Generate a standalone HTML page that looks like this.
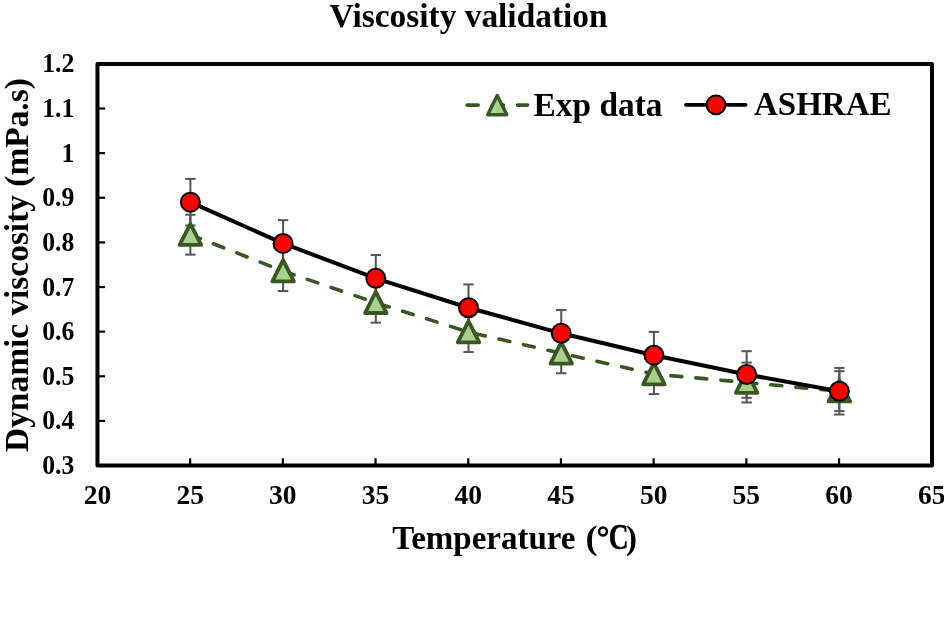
<!DOCTYPE html>
<html><head><meta charset="utf-8"><style>
html,body{margin:0;padding:0;background:#fff;width:944px;height:632px;overflow:hidden}
svg{position:absolute;left:0;top:0;will-change:transform}
text{font-family:"Liberation Serif",serif;font-weight:bold;fill:#000}
</style></head><body>
<svg width="944" height="632" viewBox="0 0 944 632">
<text x="468.6" y="27" font-size="33.4" text-anchor="middle">Viscosity validation</text>
<rect x="97.45" y="63.9" width="834.55" height="401.65" fill="none" stroke="#000" stroke-width="4" stroke-linejoin="round"/>
<text x="75.5" y="474.05" font-size="27.5" text-anchor="end" transform="translate(58.3,0) scale(0.935,1) translate(-58.3,0)">0.3</text>
<line x1="99" y1="420.92" x2="105.1" y2="420.92" stroke="#000" stroke-width="2.2"/>
<text x="75.5" y="429.42" font-size="27.5" text-anchor="end" transform="translate(58.3,0) scale(0.935,1) translate(-58.3,0)">0.4</text>
<line x1="99" y1="376.29" x2="105.1" y2="376.29" stroke="#000" stroke-width="2.2"/>
<text x="75.5" y="384.79" font-size="27.5" text-anchor="end" transform="translate(58.3,0) scale(0.935,1) translate(-58.3,0)">0.5</text>
<line x1="99" y1="331.66" x2="105.1" y2="331.66" stroke="#000" stroke-width="2.2"/>
<text x="75.5" y="340.16" font-size="27.5" text-anchor="end" transform="translate(58.3,0) scale(0.935,1) translate(-58.3,0)">0.6</text>
<line x1="99" y1="287.03" x2="105.1" y2="287.03" stroke="#000" stroke-width="2.2"/>
<text x="75.5" y="295.53" font-size="27.5" text-anchor="end" transform="translate(58.3,0) scale(0.935,1) translate(-58.3,0)">0.7</text>
<line x1="99" y1="242.40" x2="105.1" y2="242.40" stroke="#000" stroke-width="2.2"/>
<text x="75.5" y="250.90" font-size="27.5" text-anchor="end" transform="translate(58.3,0) scale(0.935,1) translate(-58.3,0)">0.8</text>
<line x1="99" y1="197.77" x2="105.1" y2="197.77" stroke="#000" stroke-width="2.2"/>
<text x="75.5" y="206.27" font-size="27.5" text-anchor="end" transform="translate(58.3,0) scale(0.935,1) translate(-58.3,0)">0.9</text>
<line x1="99" y1="153.14" x2="105.1" y2="153.14" stroke="#000" stroke-width="2.2"/>
<text x="75.5" y="161.64" font-size="27.5" text-anchor="end" transform="translate(58.3,0) scale(0.935,1) translate(-58.3,0)">1</text>
<line x1="99" y1="108.51" x2="105.1" y2="108.51" stroke="#000" stroke-width="2.2"/>
<text x="75.5" y="117.01" font-size="27.5" text-anchor="end" transform="translate(58.3,0) scale(0.935,1) translate(-58.3,0)">1.1</text>
<text x="75.5" y="72.38" font-size="27.5" text-anchor="end" transform="translate(58.3,0) scale(0.935,1) translate(-58.3,0)">1.2</text>
<text x="97.45" y="504" font-size="27.5" text-anchor="middle">20</text>
<line x1="190.15" y1="464" x2="190.15" y2="458.2" stroke="#000" stroke-width="2.2"/>
<text x="190.15" y="504" font-size="27.5" text-anchor="middle">25</text>
<line x1="282.85" y1="464" x2="282.85" y2="458.2" stroke="#000" stroke-width="2.2"/>
<text x="282.85" y="504" font-size="27.5" text-anchor="middle">30</text>
<line x1="375.55" y1="464" x2="375.55" y2="458.2" stroke="#000" stroke-width="2.2"/>
<text x="375.55" y="504" font-size="27.5" text-anchor="middle">35</text>
<line x1="468.25" y1="464" x2="468.25" y2="458.2" stroke="#000" stroke-width="2.2"/>
<text x="468.25" y="504" font-size="27.5" text-anchor="middle">40</text>
<line x1="560.95" y1="464" x2="560.95" y2="458.2" stroke="#000" stroke-width="2.2"/>
<text x="560.95" y="504" font-size="27.5" text-anchor="middle">45</text>
<line x1="653.65" y1="464" x2="653.65" y2="458.2" stroke="#000" stroke-width="2.2"/>
<text x="653.65" y="504" font-size="27.5" text-anchor="middle">50</text>
<line x1="746.35" y1="464" x2="746.35" y2="458.2" stroke="#000" stroke-width="2.2"/>
<text x="746.35" y="504" font-size="27.5" text-anchor="middle">55</text>
<line x1="839.05" y1="464" x2="839.05" y2="458.2" stroke="#000" stroke-width="2.2"/>
<text x="839.05" y="504" font-size="27.5" text-anchor="middle">60</text>
<text x="931.75" y="504" font-size="27.5" text-anchor="middle">65</text>
<text x="392.2" y="549.3" font-size="33">Temperature</text>
<text x="585.4" y="549.3" font-size="33" transform="translate(585.4,549.3) scale(1.1,1) translate(-585.4,-549.3)">(</text>
<circle cx="603" cy="531.5" r="3.9" fill="none" stroke="#000" stroke-width="2.5"/>
<text transform="translate(608.7,549.4) scale(0.83,1.07)" x="0" y="0" font-size="33" stroke="#000" stroke-width="0.5">C</text>
<text x="626" y="549.3" font-size="33">)</text>
<text transform="translate(28.1,451.25) rotate(-90)" x="-0.7" y="0" font-size="33.4">Dynamic viscosity (mPa.s)</text>
<g stroke="#555" stroke-width="2"><line x1="190.38" y1="214.74" x2="190.38" y2="254.64"/><line x1="185.18" y1="214.74" x2="195.58" y2="214.74"/><line x1="185.18" y1="254.64" x2="195.58" y2="254.64"/><line x1="283.09" y1="251.14" x2="283.09" y2="291.04"/><line x1="277.89" y1="251.14" x2="288.29" y2="251.14"/><line x1="277.89" y1="291.04" x2="288.29" y2="291.04"/><line x1="375.80" y1="282.76" x2="375.80" y2="322.66"/><line x1="370.60" y1="282.76" x2="381.00" y2="282.76"/><line x1="370.60" y1="322.66" x2="381.00" y2="322.66"/><line x1="468.51" y1="312.14" x2="468.51" y2="352.04"/><line x1="463.31" y1="312.14" x2="473.71" y2="312.14"/><line x1="463.31" y1="352.04" x2="473.71" y2="352.04"/><line x1="561.22" y1="333.33" x2="561.22" y2="373.23"/><line x1="556.02" y1="333.33" x2="566.42" y2="333.33"/><line x1="556.02" y1="373.23" x2="566.42" y2="373.23"/><line x1="653.93" y1="354.14" x2="653.93" y2="394.04"/><line x1="648.73" y1="354.14" x2="659.13" y2="354.14"/><line x1="648.73" y1="394.04" x2="659.13" y2="394.04"/><line x1="746.64" y1="362.56" x2="746.64" y2="402.46"/><line x1="741.44" y1="362.56" x2="751.84" y2="362.56"/><line x1="741.44" y1="402.46" x2="751.84" y2="402.46"/><line x1="839.35" y1="371.21" x2="839.35" y2="411.11"/><line x1="834.15" y1="371.21" x2="844.55" y2="371.21"/><line x1="834.15" y1="411.11" x2="844.55" y2="411.11"/><line x1="190.38" y1="178.90" x2="190.38" y2="225.50"/><line x1="185.18" y1="178.90" x2="195.58" y2="178.90"/><line x1="185.18" y1="225.50" x2="195.58" y2="225.50"/><line x1="283.09" y1="220.14" x2="283.09" y2="266.74"/><line x1="277.89" y1="220.14" x2="288.29" y2="220.14"/><line x1="277.89" y1="266.74" x2="288.29" y2="266.74"/><line x1="375.80" y1="255.02" x2="375.80" y2="301.62"/><line x1="370.60" y1="255.02" x2="381.00" y2="255.02"/><line x1="370.60" y1="301.62" x2="381.00" y2="301.62"/><line x1="468.51" y1="284.45" x2="468.51" y2="331.05"/><line x1="463.31" y1="284.45" x2="473.71" y2="284.45"/><line x1="463.31" y1="331.05" x2="473.71" y2="331.05"/><line x1="561.22" y1="310.02" x2="561.22" y2="356.62"/><line x1="556.02" y1="310.02" x2="566.42" y2="310.02"/><line x1="556.02" y1="356.62" x2="566.42" y2="356.62"/><line x1="653.93" y1="331.90" x2="653.93" y2="378.50"/><line x1="648.73" y1="331.90" x2="659.13" y2="331.90"/><line x1="648.73" y1="378.50" x2="659.13" y2="378.50"/><line x1="746.64" y1="351.20" x2="746.64" y2="397.80"/><line x1="741.44" y1="351.20" x2="751.84" y2="351.20"/><line x1="741.44" y1="397.80" x2="751.84" y2="397.80"/><line x1="839.35" y1="367.92" x2="839.35" y2="414.52"/><line x1="834.15" y1="367.92" x2="844.55" y2="367.92"/><line x1="834.15" y1="414.52" x2="844.55" y2="414.52"/></g>
<polyline points="190.38,234.69 283.09,271.09 375.80,302.71 468.51,332.09 561.22,353.28 653.93,374.09 746.64,382.51 839.35,391.16" fill="none" stroke="#385723" stroke-width="3.6" stroke-dasharray="11.0 14.11" stroke-dashoffset="0.3" stroke-linecap="round" stroke-linejoin="round"/>
<g fill="#A9D18E" stroke="#385723" stroke-width="3.8" stroke-linejoin="round"><path d="M190.38,223.79 L201.16,244.97 L179.60,244.97 Z"/><path d="M283.09,260.19 L293.87,281.37 L272.31,281.37 Z"/><path d="M375.80,291.81 L386.58,312.99 L365.02,312.99 Z"/><path d="M468.51,321.19 L479.29,342.37 L457.73,342.37 Z"/><path d="M561.22,342.38 L572.00,363.56 L550.44,363.56 Z"/><path d="M653.93,363.19 L664.71,384.37 L643.15,384.37 Z"/><path d="M746.64,371.61 L757.42,392.79 L735.86,392.79 Z"/><path d="M839.35,380.26 L850.13,401.44 L828.57,401.44 Z"/></g>
<polyline points="190.38,202.20 283.09,243.44 375.80,278.32 468.51,307.75 561.22,333.32 653.93,355.20 746.64,374.50 839.35,391.22" fill="none" stroke="#000" stroke-width="4" stroke-linejoin="round"/>
<g fill="#FF0000" stroke="#000" stroke-width="2"><circle cx="190.38" cy="202.20" r="9.5"/><circle cx="283.09" cy="243.44" r="9.5"/><circle cx="375.80" cy="278.32" r="9.5"/><circle cx="468.51" cy="307.75" r="9.5"/><circle cx="561.22" cy="333.32" r="9.5"/><circle cx="653.93" cy="355.20" r="9.5"/><circle cx="746.64" cy="374.50" r="9.5"/><circle cx="839.35" cy="391.22" r="9.5"/></g>
<line x1="467.1" y1="105.1" x2="527.6" y2="105.1" stroke="#385723" stroke-width="3.6" stroke-dasharray="11.1 14.1" stroke-linecap="round"/>
<g fill="#A9D18E" stroke="#385723" stroke-width="3.4" stroke-linejoin="round"><path d="M497.25,95.40 L506.80,114.80 L487.70,114.80 Z"/></g>
<text x="533.5" y="115.9" font-size="33.4">Exp data</text>
<line x1="686" y1="104.8" x2="745.6" y2="104.8" stroke="#000" stroke-width="3.8" stroke-linecap="round"/>
<circle cx="716" cy="104.8" r="9.4" fill="#FF0000" stroke="#000" stroke-width="2"/>
<text x="754" y="115.3" font-size="33">ASHRAE</text>
</svg>
</body></html>
